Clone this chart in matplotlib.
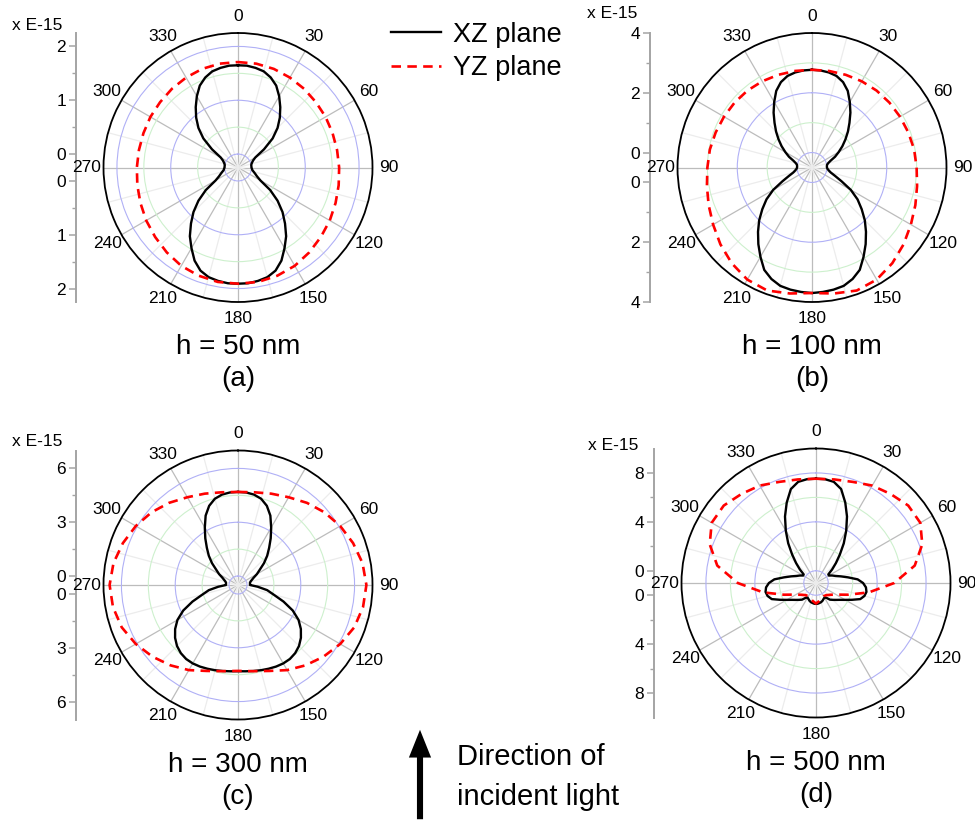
import numpy as np
import matplotlib
matplotlib.use("Agg")
import matplotlib.pyplot as plt
from matplotlib.ticker import FixedLocator
from matplotlib.patches import FancyArrowPatch

plt.rcParams['font.family'] = ['Liberation Sans', 'DejaVu Sans']

# angles (deg, clockwise from top) of the samples
ang_xz = np.arange(0, 361, 5)
ang_yz = np.arange(0, 361, 10)

# radiated power, x E-15, XZ every 5 deg, YZ every 10 deg
a_xz = [1.65, 1.65, 1.63, 1.60, 1.53, 1.43, 1.28, 1.12, 0.96, 0.79, 0.59, 0.34, 0.12, 0.06, 0.03, 0.01, 0.0, 0.0,
        0.0, 0.01, 0.02, 0.05, 0.09, 0.14, 0.23, 0.48, 0.71, 0.92, 1.11, 1.31, 1.48, 1.66, 1.79, 1.86, 1.89, 1.91,
        1.91, 1.91, 1.89, 1.86, 1.79, 1.66, 1.48, 1.31, 1.11, 0.92, 0.71, 0.48, 0.23, 0.14, 0.09, 0.05, 0.02, 0.01,
        0.0, 0.0, 0.0, 0.01, 0.03, 0.06, 0.12, 0.34, 0.59, 0.79, 0.96, 1.12, 1.28, 1.43, 1.53, 1.60, 1.63, 1.65, 1.65]
a_yz = [1.71, 1.71, 1.70, 1.68, 1.66, 1.64, 1.63, 1.62, 1.62, 1.63, 1.65, 1.68, 1.72, 1.76, 1.81, 1.86, 1.89, 1.91, 1.91,
        1.91, 1.89, 1.86, 1.81, 1.76, 1.72, 1.68, 1.65, 1.63, 1.62, 1.62, 1.63, 1.64, 1.66, 1.68, 1.70, 1.71, 1.71]

b_xz = [2.77, 2.76, 2.73, 2.67, 2.54, 2.33, 2.03, 1.74, 1.45, 1.20, 0.96, 0.74, 0.53, 0.35, 0.16, 0.06, 0.01, 0.0,
        0.0, 0.02, 0.07, 0.15, 0.32, 0.59, 1.00, 1.36, 1.67, 2.00, 2.31, 2.63, 2.95, 3.28, 3.47, 3.60, 3.65, 3.68,
        3.70, 3.68, 3.65, 3.60, 3.47, 3.28, 2.95, 2.63, 2.31, 2.00, 1.67, 1.36, 1.00, 0.59, 0.32, 0.15, 0.07, 0.02,
        0.0, 0.0, 0.01, 0.06, 0.16, 0.35, 0.53, 0.74, 0.96, 1.20, 1.45, 1.74, 2.03, 2.33, 2.54, 2.67, 2.73, 2.76, 2.77]
b_yz = [2.77, 2.78, 2.80, 2.83, 2.86, 2.88, 2.90, 2.93, 2.97, 3.00, 3.07, 3.18, 3.32, 3.50, 3.68, 3.83, 3.88, 3.78, 3.70,
        3.78, 3.88, 3.83, 3.68, 3.50, 3.32, 3.18, 3.07, 3.00, 2.97, 2.93, 2.90, 2.88, 2.86, 2.83, 2.80, 2.78, 2.77]

c_xz = [4.69, 4.68, 4.62, 4.48, 4.20, 3.77, 3.20, 2.68, 2.20, 1.80, 1.39, 0.98, 0.72, 0.46, 0.32, 0.22, 0.18, 0.17,
        0.17, 0.60, 1.15, 1.55, 2.20, 2.87, 3.40, 3.78, 4.08, 4.31, 4.46, 4.54, 4.55, 4.52, 4.47, 4.42, 4.37, 4.33,
        4.31, 4.33, 4.37, 4.42, 4.47, 4.52, 4.55, 4.54, 4.46, 4.31, 4.08, 3.78, 3.40, 2.87, 2.20, 1.55, 1.15, 0.60,
        0.17, 0.17, 0.18, 0.22, 0.32, 0.46, 0.72, 0.98, 1.39, 1.80, 2.20, 2.68, 3.20, 3.77, 4.20, 4.48, 4.62, 4.68, 4.69]
c_yz = [4.69, 4.75, 4.92, 5.15, 5.48, 5.80, 6.08, 6.33, 6.55, 6.66, 6.58, 6.40, 6.08, 5.72, 5.35, 4.98, 4.60, 4.38, 4.29,
        4.38, 4.60, 4.98, 5.35, 5.72, 6.08, 6.40, 6.58, 6.66, 6.55, 6.33, 6.08, 5.80, 5.48, 5.15, 4.92, 4.75, 4.69]

d_xz = [7.53, 7.52, 7.40, 6.95, 6.00, 5.00, 3.94, 2.96, 2.03, 1.30, 0.72, 0.23, 0.22, 0.45, 0.69, 1.10, 1.66, 2.42,
        2.85, 3.10, 3.19, 3.10, 2.85, 2.25, 1.76, 1.40, 1.15, 0.95, 0.78, 0.48, 0.38, 0.45, 0.55, 0.62, 0.66, 0.70,
        0.71, 0.70, 0.66, 0.62, 0.55, 0.45, 0.38, 0.48, 0.78, 0.95, 1.15, 1.40, 1.76, 2.25, 2.85, 3.10, 3.19, 3.10,
        2.85, 2.42, 1.66, 1.10, 0.69, 0.45, 0.22, 0.23, 0.72, 1.30, 2.03, 2.96, 3.94, 5.00, 6.00, 6.95, 7.40, 7.52, 7.53]
d_yz = [7.53, 7.60, 7.80, 8.20, 8.50, 8.85, 8.85, 8.25, 7.20, 5.40, 3.40, 1.80, 0.90, 0.50, 0.30, 0.25, 0.35, 0.50, 0.68,
        0.50, 0.35, 0.25, 0.30, 0.50, 0.90, 1.80, 3.40, 5.40, 7.20, 8.25, 8.85, 8.85, 8.50, 8.20, 7.80, 7.60, 7.53]

heights = ['h = 50 nm', 'h = 100 nm', 'h = 300 nm', 'h = 500 nm']
letters = ['(a)', '(b)', '(c)', '(d)']
xz_all = [a_xz, b_xz, c_xz, d_xz]
yz_all = [a_yz, b_yz, c_yz, d_yz]

# radial scale of each panel: max, inner offset, labelled steps, half steps
r_max = [2.25, 4.0, 7.0, 10.0]
r_off = [0.25, 0.5, 0.5, 1.0]
r_major = [[0, 1, 2], [0, 2, 4], [0, 3, 6], [0, 4, 8]]
r_minor = [[0.5, 1.5], [1, 3], [1.5, 4.5], [2, 6]]

W, H = 975, 824
fig = plt.figure(figsize=(W / 100, H / 100), dpi=100)

# panel centres, radius and unit-label spots in pixels (from top left)
centres = [(238, 167.5), (812, 167.5), (238, 585), (816, 583)]
unit_pos = [(12, 25), (587, 14), (12, 442), (588, 446)]
R = 134.5


def panel(i):
    cx, cy = centres[i]
    rect = [(cx - R) / W, 1 - (cy + R) / H, 2 * R / W, 2 * R / H]
    rmax, r0 = r_max[i], r_off[i]

    # mirrored linear radial axis on the left
    lax = fig.add_axes(rect)
    lax.patch.set_visible(False)
    lax.set_ylim(-(rmax + r0), rmax + r0)
    lax.set_xticks([])
    for s in ['top', 'right', 'bottom']:
        lax.spines[s].set_visible(False)
    lax.spines['left'].set_position(('outward', 20))
    lax.spines['left'].set_color('#a4a4a4')
    lax.spines['left'].set_linewidth(1.4)
    ticks = [r0 + v for v in r_major[i]] + [-(r0 + v) for v in r_major[i]]
    labels = [str(v) for v in r_major[i]] * 2
    lax.set_yticks(ticks, labels)
    lax.set_yticks([r0 + v for v in r_minor[i]] + [-(r0 + v) for v in r_minor[i]], minor=True)
    lax.tick_params(axis='y', which='both', direction='out', color='#a4a4a4', labelsize=12.5, pad=2)
    lax.tick_params(axis='y', which='major', length=5, width=1.1)
    lax.tick_params(axis='y', which='minor', length=3, width=1.0)
    ux, uy = unit_pos[i]
    fig.text(ux / W, 1 - uy / H, 'x E-15', fontsize=12.5, ha='left', va='center')

    ax = fig.add_axes(rect, projection='polar')
    ax.set_theta_zero_location('N')
    ax.set_theta_direction(-1)
    ax.set_ylim(-r0, rmax)
    ax.set_xticks(np.radians(np.arange(0, 360, 30)))
    ax.set_xticklabels([str(d) for d in range(0, 360, 30)])
    ax.xaxis.set_minor_locator(FixedLocator(np.radians(np.arange(15, 360, 30))))
    ax.set_yticks(r_major[i])
    ax.set_yticklabels([])
    ax.yaxis.set_minor_locator(FixedLocator(r_minor[i]))
    ax.grid(True, which='major', axis='x', color='#bcbcbc', lw=0.9)
    ax.grid(True, which='minor', axis='x', color='#ececec', lw=0.9)
    ax.grid(True, which='major', axis='y', color='#b0b0f6', lw=0.8)
    ax.grid(True, which='minor', axis='y', color='#cdf0cd', lw=0.8)
    ax.tick_params(axis='x', which='both', direction='in', length=5, color='black', labelsize=12.5, pad=5)
    ax.tick_params(axis='y', which='both', length=0)
    ax.spines['polar'].set_color('black')
    ax.spines['polar'].set_linewidth(1.3)

    l1, = ax.plot(np.radians(ang_xz), xz_all[i], color='black', lw=1.7, label='XZ plane')
    l2, = ax.plot(np.radians(ang_yz), yz_all[i], color='red', lw=1.9, ls=(0, (3.6, 2.4)), label='YZ plane')

    fig.text(cx / W, 1 - (cy + R + 45) / H, heights[i], fontsize=20, ha='center', va='center')
    fig.text(cx / W, 1 - (cy + R + 77) / H, letters[i], fontsize=20, ha='center', va='center')
    return l1, l2


handles = None
for i in range(4):
    h = panel(i)
    if handles is None:
        handles = h

fig.legend(handles, [h.get_label() for h in handles], loc='upper left',
           bbox_to_anchor=(377 / W, 1 - 8 / H), frameon=False, fontsize=19.5,
           handlelength=1.85, handletextpad=0.45, labelspacing=0.28, borderpad=0)

arrow = FancyArrowPatch((420 / W, 1 - 822 / H), (420 / W, 1 - 727 / H), transform=fig.transFigure,
                        arrowstyle='simple,head_length=1.0,head_width=0.8,tail_width=0.22',
                        mutation_scale=20, color='black', lw=0)
fig.add_artist(arrow)
fig.text(457 / W, 1 - 757 / H, 'Direction of', fontsize=21, ha='left', va='center')
fig.text(457 / W, 1 - 797 / H, 'incident light', fontsize=21, ha='left', va='center')

fig.savefig('out.png', dpi=100, facecolor='white')
